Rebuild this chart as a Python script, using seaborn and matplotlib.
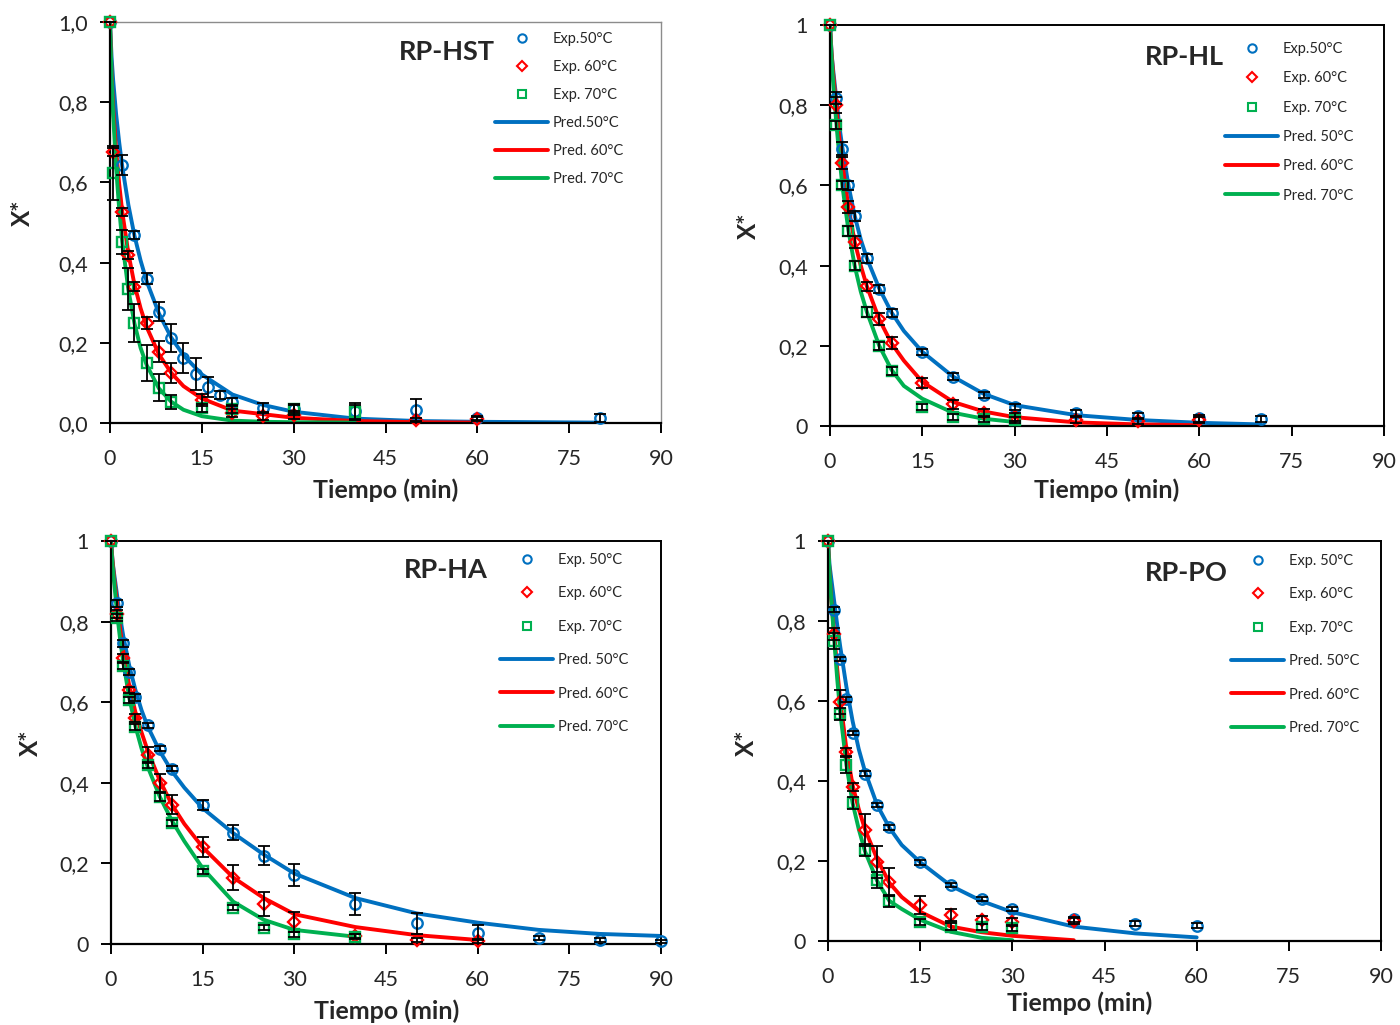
import numpy as np
import matplotlib
matplotlib.use("Agg")
import matplotlib.pyplot as plt
from matplotlib.lines import Line2D
import seaborn as sns

# colours used by the original spreadsheet chart
C50 = "#0070C0"
C60 = "#FF0000"
C70 = "#00B050"

# common time grid for the predicted curves (min)
T_CURVE = [0, 0.25, 0.5, 1, 1.5, 2, 3, 4, 5, 6, 8, 10, 12, 15, 20, 25, 30, 40, 50, 60, 70, 80, 90]

# ---------------- RP-HST ----------------
HST_T50 = [0, 2, 4, 6, 8, 10, 12, 14, 16, 18, 20, 25, 30, 40, 50, 60, 80]
HST_X50 = [1, 0.643, 0.47, 0.36, 0.278, 0.213, 0.162, 0.122, 0.09, 0.07, 0.053, 0.038, 0.034, 0.03, 0.032, 0.012, 0.012]
HST_E50 = [0, 0.025, 0.01, 0.013, 0.024, 0.035, 0.037, 0.04, 0.025, 0.01, 0.01, 0.013, 0.013, 0.02, 0.027, 0.005, 0.01]
HST_T60 = [0, 0.5, 2, 3, 4, 6, 8, 10, 15, 20, 25, 30, 50, 60]
HST_X60 = [1, 0.677, 0.527, 0.42, 0.34, 0.249, 0.178, 0.125, 0.057, 0.026, 0.018, 0.02, 0.008, 0.01]
HST_E60 = [0, 0.01, 0.01, 0.01, 0.012, 0.015, 0.027, 0.025, 0.015, 0.01, 0.01, 0.01, 0.005, 0.005]
HST_T70 = [0, 0.5, 2, 3, 4, 6, 8, 10, 15, 20, 30, 40]
HST_X70 = [1, 0.623, 0.452, 0.334, 0.249, 0.149, 0.088, 0.053, 0.037, 0.034, 0.035, 0.027]
HST_E70 = [0, 0.067, 0.03, 0.052, 0.048, 0.045, 0.033, 0.017, 0.01, 0.01, 0.01, 0.019]
HST_P50 = [1, 0.914, 0.858, 0.77, 0.70, 0.64, 0.544, 0.467, 0.405, 0.353, 0.273, 0.213, 0.169, 0.121, 0.071, 0.045, 0.028, 0.011, 0.005, 0.003, 0.002, 0.001]
HST_P60 = [1, 0.87, 0.79, 0.68, 0.596, 0.527, 0.423, 0.345, 0.286, 0.239, 0.171, 0.125, 0.092, 0.061, 0.031, 0.022, 0.013, 0.005, 0.002, 0.001]
HST_P70 = [1, 0.864, 0.773, 0.636, 0.534, 0.452, 0.332, 0.248, 0.187, 0.144, 0.086, 0.053, 0.033, 0.017, 0.006, 0.003, 0.002, 0.001]

# ---------------- RP-HL ----------------
HL_T50 = [0, 1, 2, 3, 4, 6, 8, 10, 15, 20, 25, 30, 40, 50, 60, 70]
HL_X50 = [1, 0.819, 0.692, 0.60, 0.523, 0.418, 0.341, 0.281, 0.185, 0.123, 0.077, 0.048, 0.032, 0.025, 0.019, 0.017]
HL_E50 = [0, 0.015, 0.015, 0.012, 0.012, 0.012, 0.01, 0.01, 0.008, 0.008, 0.008, 0.008, 0.008, 0.008, 0.008, 0.008]
HL_T60 = [0, 1, 2, 3, 4, 6, 8, 10, 15, 20, 25, 30, 40, 50, 60]
HL_X60 = [1, 0.80, 0.655, 0.545, 0.46, 0.348, 0.266, 0.206, 0.108, 0.054, 0.032, 0.023, 0.015, 0.013, 0.015]
HL_E60 = [0, 0.02, 0.015, 0.015, 0.015, 0.012, 0.015, 0.015, 0.012, 0.012, 0.01, 0.01, 0.008, 0.008, 0.008]
HL_T70 = [0, 1, 2, 3, 4, 6, 8, 10, 15, 20, 25, 30]
HL_X70 = [1, 0.75, 0.60, 0.486, 0.40, 0.284, 0.20, 0.137, 0.047, 0.022, 0.018, 0.015]
HL_E70 = [0, 0.01, 0.01, 0.012, 0.012, 0.012, 0.01, 0.01, 0.008, 0.008, 0.008, 0.008]
HL_P50 = [1, 0.93, 0.89, 0.82, 0.75, 0.695, 0.60, 0.525, 0.465, 0.418, 0.343, 0.283, 0.237, 0.185, 0.123, 0.08, 0.052, 0.027, 0.015, 0.008, 0.004]
HL_P60 = [1, 0.93, 0.88, 0.80, 0.72, 0.655, 0.545, 0.46, 0.40, 0.348, 0.266, 0.206, 0.163, 0.11, 0.06, 0.036, 0.022, 0.009, 0.004, 0.002]
HL_P70 = [1, 0.92, 0.86, 0.76, 0.675, 0.60, 0.487, 0.40, 0.335, 0.284, 0.20, 0.14, 0.10, 0.068, 0.033, 0.018, 0.01]

# ---------------- RP-HA ----------------
HA_T50 = [0, 1, 2, 3, 4, 6, 8, 10, 15, 20, 25, 30, 40, 50, 60, 70, 80, 90]
HA_X50 = [1, 0.845, 0.746, 0.675, 0.612, 0.543, 0.485, 0.435, 0.345, 0.276, 0.219, 0.171, 0.10, 0.051, 0.028, 0.014, 0.01, 0.007]
HA_E50 = [0, 0.008, 0.008, 0.008, 0.008, 0.006, 0.006, 0.006, 0.012, 0.019, 0.023, 0.027, 0.027, 0.025, 0.018, 0.005, 0.004, 0.004]
HA_T60 = [0, 1, 2, 3, 4, 6, 8, 10, 15, 20, 25, 30, 40, 50, 60]
HA_X60 = [1, 0.82, 0.71, 0.63, 0.56, 0.47, 0.40, 0.346, 0.24, 0.165, 0.10, 0.055, 0.02, 0.01, 0.007]
HA_E60 = [0, 0.01, 0.01, 0.008, 0.01, 0.02, 0.023, 0.023, 0.025, 0.032, 0.03, 0.025, 0.005, 0.005, 0.005]
HA_T70 = [0, 1, 2, 3, 4, 6, 8, 10, 15, 20, 25, 30, 40]
HA_X70 = [1, 0.81, 0.69, 0.605, 0.538, 0.444, 0.365, 0.30, 0.18, 0.09, 0.04, 0.024, 0.018]
HA_E70 = [0, 0.008, 0.008, 0.008, 0.008, 0.008, 0.01, 0.008, 0.006, 0.006, 0.006, 0.006, 0.006]
HA_P50 = [1, 0.95, 0.92, 0.865, 0.81, 0.765, 0.69, 0.63, 0.58, 0.54, 0.478, 0.428, 0.388, 0.337, 0.275, 0.222, 0.175, 0.114, 0.076, 0.053, 0.035, 0.025, 0.02]
HA_P60 = [1, 0.95, 0.91, 0.845, 0.78, 0.725, 0.64, 0.575, 0.525, 0.48, 0.405, 0.345, 0.298, 0.24, 0.165, 0.114, 0.074, 0.042, 0.022, 0.01]
HA_P70 = [1, 0.94, 0.90, 0.82, 0.755, 0.70, 0.61, 0.54, 0.485, 0.44, 0.365, 0.305, 0.255, 0.188, 0.105, 0.06, 0.035, 0.018]

# ---------------- RP-PO ----------------
PO_T50 = [0, 1, 2, 3, 4, 6, 8, 10, 15, 20, 25, 30, 40, 50, 60]
PO_X50 = [1, 0.828, 0.705, 0.604, 0.52, 0.418, 0.34, 0.284, 0.197, 0.14, 0.105, 0.08, 0.054, 0.043, 0.038]
PO_E50 = [0, 0.006, 0.006, 0.006, 0.006, 0.006, 0.006, 0.006, 0.006, 0.006, 0.006, 0.006, 0.006, 0.006, 0.006]
PO_T60 = [0, 1, 2, 3, 4, 6, 8, 10, 15, 20, 25, 30, 40]
PO_X60 = [1, 0.767, 0.597, 0.473, 0.386, 0.278, 0.198, 0.148, 0.09, 0.065, 0.052, 0.048, 0.05]
PO_E60 = [0, 0.015, 0.03, 0.01, 0.01, 0.04, 0.04, 0.035, 0.022, 0.015, 0.01, 0.01, 0.008]
PO_T70 = [0, 1, 2, 3, 4, 6, 8, 10, 15, 20, 25, 30]
PO_X70 = [1, 0.75, 0.567, 0.44, 0.344, 0.228, 0.153, 0.10, 0.048, 0.036, 0.035, 0.033]
PO_E70 = [0, 0.02, 0.015, 0.02, 0.015, 0.015, 0.02, 0.015, 0.008, 0.008, 0.008, 0.008]
PO_P50 = [1, 0.94, 0.91, 0.85, 0.79, 0.735, 0.635, 0.55, 0.48, 0.425, 0.34, 0.283, 0.24, 0.197, 0.138, 0.10, 0.072, 0.036, 0.019, 0.009]
PO_P60 = [1, 0.92, 0.86, 0.77, 0.68, 0.60, 0.48, 0.39, 0.33, 0.28, 0.205, 0.145, 0.11, 0.073, 0.036, 0.022, 0.013, 0.002]
PO_P70 = [1, 0.92, 0.86, 0.755, 0.655, 0.57, 0.44, 0.345, 0.28, 0.225, 0.15, 0.10, 0.08, 0.053, 0.023, 0.008, 0.002]

X_TICKS = [0, 15, 30, 45, 60, 75, 90]
Y_TICKS = [0, 0.2, 0.4, 0.6, 0.8, 1.0]
Y_LABELS_HST = ["0,0", "0,2", "0,4", "0,6", "0,8", "1,0"]
Y_LABELS = ["0", "0,2", "0,4", "0,6", "0,8", "1"]

sns.set_theme(style="white")
plt.rcParams["font.family"] = ["Lato", "DejaVu Sans"]

W, H = 1400, 1025
fig = plt.figure(figsize=(14, 10.25), dpi=100)


def fx(px):
    return px / W


def fy(py):
    return 1 - py / H


def draw_panel(box, title, title_xy, exp, pred, leg, ylabels, frame_color,
               xlabel_xy, ylabel_xy):
    left, top, right, bottom = box
    ax = fig.add_axes([fx(left), fy(bottom), fx(right - left), (bottom - top) / H])

    # predicted curves
    for vals, c in zip(pred, [C50, C60, C70]):
        sns.lineplot(x=T_CURVE[:len(vals)], y=vals, ax=ax, color=c, linewidth=2.8,
                     estimator=None, sort=False, zorder=2)

    # experimental points with error bars
    for (t, x, e), c, m, ms in zip(exp, [C50, C60, C70], ["o", "D", "s"], [7.5, 6.5, 7.5]):
        ax.plot(t, x, linestyle="none", marker=m, ms=ms, mfc="none", mec=c, mew=1.7,
                zorder=3, clip_on=False)
        ax.errorbar(t, x, yerr=e, fmt="none", ecolor="black", elinewidth=1.3,
                    capsize=4, capthick=1.3, zorder=4, clip_on=False)

    ax.set_xlim(0, 90)
    ax.set_ylim(0, 1)
    ax.set_xticks(X_TICKS)
    ax.set_xticklabels([str(v) for v in X_TICKS])
    ax.set_yticks(Y_TICKS)
    ax.set_yticklabels(ylabels)
    ax.tick_params(axis="both", which="major", direction="out", length=7, width=1.4,
                   color="black", labelsize=15.5, bottom=True, left=True)
    ax.tick_params(axis="x", pad=12)
    ax.tick_params(axis="y", pad=9)
    ax.set_xlabel("")
    ax.set_ylabel("")

    for s in ["left", "bottom"]:
        ax.spines[s].set_color("black")
        ax.spines[s].set_linewidth(1.6)
    for s in ["top", "right"]:
        ax.spines[s].set_color(frame_color)
        ax.spines[s].set_linewidth(1.4 if frame_color == "black" else 1.0)

    fig.text(fx(title_xy[0]), fy(title_xy[1]), title, ha="center", va="center",
             fontsize=19.5, fontweight="bold")
    fig.text(fx(xlabel_xy[0]), fy(xlabel_xy[1]), "Tiempo (min)", ha="center", va="center",
             fontsize=18, fontweight="bold")
    fig.text(fx(ylabel_xy[0]), fy(ylabel_xy[1]), "X*", ha="center", va="center",
             fontsize=17.5, fontweight="bold", rotation=90)

    # legend
    lx, ly, spacing, labels = leg
    handles = [
        Line2D([], [], linestyle="none", marker="o", ms=6, mfc="none", mec=C50, mew=1.5),
        Line2D([], [], linestyle="none", marker="D", ms=5, mfc="none", mec=C60, mew=1.5),
        Line2D([], [], linestyle="none", marker="s", ms=6, mfc="none", mec=C70, mew=1.5),
        Line2D([], [], color=C50, lw=2.8),
        Line2D([], [], color=C60, lw=2.8),
        Line2D([], [], color=C70, lw=2.8),
    ]
    fs = 10.5
    fs_px = fs * 100 / 72
    ax.legend(handles, labels, loc="upper left", frameon=False, fontsize=fs,
              bbox_to_anchor=(fx(lx), fy(ly)), bbox_transform=fig.transFigure,
              borderpad=0, borderaxespad=0, handlelength=53 / fs_px,
              handletextpad=5 / fs_px, labelspacing=spacing)
    return ax


LEG_A = ["Exp.50°C", "Exp. 60°C", "Exp. 70°C", "Pred.50°C", "Pred. 60°C", "Pred. 70°C"]
LEG_B = ["Exp.50°C", "Exp. 60°C", "Exp. 70°C", "Pred. 50°C", "Pred. 60°C", "Pred. 70°C"]
LEG_C = ["Exp. 50°C", "Exp. 60°C", "Exp. 70°C", "Pred. 50°C", "Pred. 60°C", "Pred. 70°C"]

draw_panel((110, 22, 661, 423), "RP-HST", (447, 52),
           [(HST_T50, HST_X50, HST_E50), (HST_T60, HST_X60, HST_E60), (HST_T70, HST_X70, HST_E70)],
           [HST_P50, HST_P60, HST_P70],
           (495, 32, 0.96, LEG_A), Y_LABELS_HST, "#8c8c8c", (386, 490), (22, 213))

draw_panel((830, 25, 1384, 426), "RP-HL", (1184, 57),
           [(HL_T50, HL_X50, HL_E50), (HL_T60, HL_X60, HL_E60), (HL_T70, HL_X70, HL_E70)],
           [HL_P50, HL_P60, HL_P70],
           (1225, 42, 1.05, LEG_B), Y_LABELS, "black", (1107, 490), (748, 226))

draw_panel((111, 541, 661, 944), "RP-HA", (446, 570),
           [(HA_T50, HA_X50, HA_E50), (HA_T60, HA_X60, HA_E60), (HA_T70, HA_X70, HA_E70)],
           [HA_P50, HA_P60, HA_P70],
           (500, 553, 1.33, LEG_C), Y_LABELS, "black", (387, 1011), (30, 743))

draw_panel((828, 541, 1381, 941), "RP-PO", (1186, 573),
           [(PO_T50, PO_X50, PO_E50), (PO_T60, PO_X60, PO_E60), (PO_T70, PO_X70, PO_E70)],
           [PO_P50, PO_P60, PO_P70],
           (1231, 554, 1.33, LEG_C), Y_LABELS, "black", (1080, 1003), (746, 743))

fig.savefig("out.png", dpi=100)
